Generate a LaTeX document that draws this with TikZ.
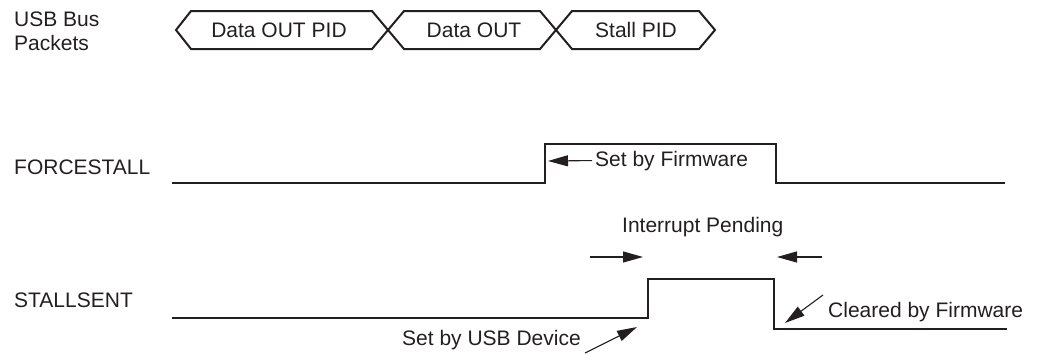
\documentclass[tikz,border=0pt]{standalone}
\usepackage{fontspec}
\setmainfont{Liberation Sans}
\usetikzlibrary{arrows.meta}
\definecolor{txt}{HTML}{231F20}
\begin{document}
\begin{tikzpicture}[x=1pt,y=-1pt,
  lbl/.style={inner sep=0pt, anchor=base west, font=\fontsize{21}{25}\selectfont, text=txt},
  ctr/.style={lbl, anchor=base},
  sig/.style={line width=2.4pt, line join=miter, draw=txt},
  pkt/.style={line width=2pt, line join=miter, draw=txt},
  note/.style={line width=1.1pt, draw=txt, -{Triangle[length=20pt,width=11pt]}}]
\useasboundingbox (0,0) rectangle (1040,354);
% labels on the left
\node[lbl] (usb1) at (14,26) {USB Bus};
\node[lbl] (usb2) at (14,50) {Packets};
\node[lbl] (fs) at (14,174) {FORCESTALL};
\node[lbl] (ss) at (14,307) {STALLSENT};
% packets
\draw[pkt] (176,30) -- (191,11) -- (372,11) -- (404,49) -- (540,49) -- (572,11)
  -- (699,11) -- (715,30) -- (699,49) -- (572,49) -- (540,11) -- (404,11)
  -- (372,49) -- (191,49) -- cycle;
\node[ctr] (p1) at (279,37) {Data OUT PID};
\node[ctr] (p2) at (474,37) {Data OUT};
\node[ctr] (p3) at (636,37) {Stall PID};
% signals
\draw[sig] (172,183) -- (545,183) -- (545,144) -- (776,144) -- (776,183) -- (1005,183);
\draw[sig] (172,318) -- (648,318) -- (648,279) -- (774,279) -- (774,329) -- (1007,329);
% annotations
\node[lbl] (fwset) at (595,166) {Set by Firmware};
\coordinate (fwtip) at (548,161);
\draw[note] ([xshift=-3pt]fwset.west) -- (fwtip);
\node[lbl] (ip) at (622,232) {Interrupt Pending};
\coordinate (ipl0) at (590,257);
\coordinate (ipl1) at (643,257);
\coordinate (ipr0) at (822,257);
\coordinate (ipr1) at (777,257);
\draw[note] (ipl0) -- (ipl1);
\draw[note] (ipr0) -- (ipr1);
\node[lbl] (clr) at (828,317) {Cleared by Firmware};
\coordinate (clr0) at (823,295);
\coordinate (clr1) at (785,323);
\draw[note] (clr0) -- (clr1);
\node[lbl] (usbset) at (402,345) {Set by USB Device};
\coordinate (us0) at (585,353);
\coordinate (us1) at (637,327);
\draw[note] (us0) -- (us1);
\end{tikzpicture}
\end{document}
